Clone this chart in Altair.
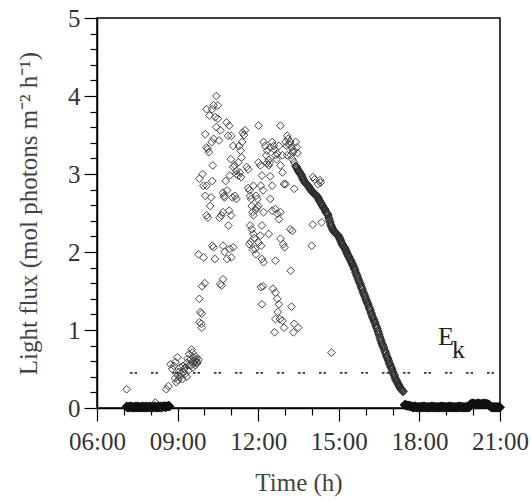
import altair as alt
import pandas as pd

# ---------------- data (hours of day, light flux) ----------------
scatter_t = [
    7.10, 8.17, 8.58, 8.66, 8.74, 8.80, 8.86, 8.90, 8.92, 8.99, 9.05, 9.11, 9.18, 9.20, 9.24,
    9.28, 9.30, 9.34, 9.37, 9.40, 9.43, 9.45, 9.49, 9.52, 9.55, 9.58, 9.60, 9.62, 9.65, 9.68,
    9.70, 9.74, 9.78, 9.00, 9.08, 9.15, 9.22, 9.35, 9.47, 9.57, 9.66, 9.72, 8.95, 9.02,
    9.81, 9.93, 9.78, 9.97, 9.91, 10.01, 9.81, 9.85, 9.90, 9.81, 9.90, 9.88,
    10.03, 10.08, 10.12, 10.16, 10.08, 10.19, 10.29, 10.34, 10.44, 10.50, 10.40, 10.50, 10.44, 10.34,
    10.27, 10.31, 10.08, 10.03, 9.96, 10.08, 10.13, 10.21, 10.29, 10.25, 10.29, 10.34, 10.39, 10.54,
    10.59, 10.59, 10.64, 10.69, 10.63, 10.56, 10.69, 10.75, 10.79, 10.84, 10.69, 10.73, 10.94, 11.07,
    10.98, 10.82, 10.92, 10.88, 11.00, 11.07, 10.69, 10.75, 10.84, 10.94, 11.00, 11.07, 10.92, 11.04,
    10.99, 10.89,
    11.13, 11.19, 11.26, 11.38, 11.42, 11.47, 11.40, 11.51, 11.34, 11.29, 11.19, 11.26, 11.32, 11.36,
    11.19, 11.13,
    11.57, 11.63, 11.67, 11.70, 11.74, 11.76, 11.79, 11.82, 11.63, 11.70, 11.76, 11.82, 11.67, 11.72,
    11.80, 11.89, 11.85, 11.92, 11.95, 11.91, 11.97, 12.01, 11.92, 11.82,
    12.01, 12.01, 12.08, 12.14, 12.10, 12.18, 12.20, 12.14, 12.08, 12.01, 12.11, 12.14, 12.20, 12.10,
    12.18, 12.14, 12.20, 12.26, 12.33, 12.30, 12.39, 12.33, 12.43, 12.45, 12.39, 12.45, 12.52, 12.45,
    12.52, 12.39,
    12.52, 12.58, 12.64, 12.61, 12.71, 12.68, 12.77, 12.83, 12.90, 12.83, 12.90, 12.96, 12.64, 12.71,
    12.77, 12.83, 12.64, 12.55, 12.64, 12.71, 12.77, 12.73, 12.81, 12.64, 12.61, 12.83, 12.93, 12.98,
    12.90, 12.96,
    13.02, 13.06, 13.08, 13.11, 13.15, 13.19, 13.24, 13.21, 13.27, 13.34, 13.31, 13.08, 13.02, 13.19,
    13.27, 13.21, 13.24, 13.31, 13.34, 13.49, 13.40, 13.44, 13.46, 13.34, 13.30,
    14.04, 14.10, 14.30, 14.32, 14.22, 14.03, 14.36, 13.99, 14.73,
]
scatter_v = [
    0.24, 0.07, 0.24, 0.28, 0.56, 0.50, 0.54, 0.38, 0.59, 0.65, 0.46, 0.52, 0.37, 0.54, 0.50,
    0.44, 0.52, 0.40, 0.63, 0.48, 0.69, 0.55, 0.54, 0.75, 0.71, 0.65, 0.57, 0.61, 0.60, 0.66,
    0.63, 0.58, 0.62, 0.42, 0.40, 0.44, 0.47, 0.58, 0.62, 0.52, 0.55, 0.59, 0.33, 0.36,
    2.94, 3.00, 1.97, 1.93, 1.56, 1.60, 1.40, 1.23, 1.21, 1.10, 1.03, 1.08,
    3.51, 3.34, 3.32, 3.28, 3.83, 3.75, 3.83, 3.88, 4.00, 3.88, 3.73, 3.71, 3.60, 3.45,
    3.41, 3.11, 2.85, 2.72, 2.85, 2.47, 2.44, 2.59, 2.91, 2.70, 2.08, 2.06, 1.91, 3.43,
    3.56, 1.59, 1.57, 1.65, 2.47, 2.44, 2.51, 2.70, 2.91, 2.79, 2.76, 2.72, 2.98, 3.09,
    3.19, 3.66, 3.62, 3.49, 3.49, 3.36, 2.08, 2.00, 1.91, 2.04, 1.93, 2.06, 2.53, 2.70,
    2.47, 2.34,
    3.11, 3.04, 3.15, 3.21, 3.53, 3.50, 3.41, 3.56, 3.30, 3.36, 3.00, 2.98, 3.02, 2.96,
    2.68, 2.72,
    3.09, 2.82, 2.79, 2.72, 2.68, 2.59, 2.51, 2.47, 3.06, 2.34, 2.29, 2.23, 2.10, 2.13,
    2.03, 2.04, 2.18, 1.97, 2.57, 2.54, 2.68, 2.59, 2.72, 2.85,
    3.62, 3.15, 3.11, 2.98, 2.85, 2.79, 2.51, 2.34, 2.21, 2.12, 2.08, 1.91, 1.87, 1.55,
    1.56, 1.33, 3.41, 3.36, 3.30, 3.24, 3.18, 3.14, 3.14, 3.34, 3.11, 2.97, 2.85, 2.68,
    2.53, 2.23,
    3.41, 3.36, 3.24, 3.31, 3.26, 3.19, 3.36, 3.62, 3.24, 3.11, 3.02, 2.87, 2.55, 2.49,
    2.42, 2.51, 1.89, 1.53, 1.48, 1.40, 1.33, 1.23, 1.14, 1.14, 0.97, 2.17, 2.10, 2.06,
    1.12, 1.03,
    3.41, 3.36, 3.49, 3.45, 3.38, 3.41, 3.34, 3.24, 3.19, 3.15, 3.30, 3.24, 2.87, 2.29,
    2.27, 1.76, 1.30, 0.97, 1.08, 1.03, 3.41, 3.34, 3.27, 2.81, 3.28,
    2.96, 2.93, 2.92, 2.89, 2.87, 2.35, 2.38, 2.08, 0.71,
]

# regularly logged segments (start hour, 3-minute step); "2" = readings 1.5 min later
step_h = 0.05
morning_start = 7.10
morning_v = [
    0.02, 0.01, 0.01, 0.02, 0.01, 0.01, 0.01, 0.02, 0.01, 0.01, 0.01,
    0.01, 0.02, 0.01, 0.01, 0.01, 0.01, 0.02, 0.01, 0.01, 0.01, 0.02,
    0.01, 0.01, 0.01, 0.02, 0.01, 0.02, 0.02, 0.01, 0.02, 0.02, 0.02,
]
morning2_start = 7.125
morning2_v = [
    0.01, 0.01, 0.02, 0.01, 0.01, 0.01, 0.01, 0.01, 0.02, 0.01, 0.01,
    0.01, 0.01, 0.01, 0.02, 0.01, 0.01, 0.01, 0.01, 0.01, 0.02, 0.01,
    0.01, 0.02, 0.01, 0.01, 0.01, 0.02, 0.02, 0.02, 0.02, 0.03,
]
curve_start = 13.40
curve_v = [
    3.10, 3.07, 3.04, 3.01, 2.99, 2.95, 2.92, 2.89, 2.87, 2.85, 2.83, 2.80, 2.78, 2.76, 2.74,
    2.73, 2.71, 2.68, 2.65, 2.62, 2.59, 2.56, 2.53, 2.50, 2.47, 2.41, 2.35, 2.31, 2.28, 2.25,
    2.24, 2.22, 2.20, 2.16, 2.12, 2.09, 2.06, 2.03, 1.99, 1.95, 1.92, 1.89, 1.85, 1.81, 1.77,
    1.72, 1.68, 1.63, 1.59, 1.54, 1.49, 1.45, 1.40, 1.36, 1.32, 1.27, 1.22, 1.17, 1.13, 1.09,
    1.04, 0.99, 0.94, 0.88, 0.83, 0.79, 0.74, 0.70, 0.65, 0.61, 0.56, 0.52, 0.47, 0.43, 0.38,
    0.35, 0.31, 0.28, 0.25, 0.23, 0.21,
]
curve2_start = 13.425
curve2_v = [
    3.09, 3.05, 3.03, 3.00, 2.97, 2.93, 2.90, 2.88, 2.86, 2.84, 2.81, 2.79, 2.77, 2.75, 2.74,
    2.72, 2.70, 2.66, 2.63, 2.60, 2.57, 2.55, 2.51, 2.49, 2.44, 2.38, 2.33, 2.29, 2.26, 2.25,
    2.23, 2.21, 2.18, 2.14, 2.10, 2.07, 2.05, 2.01, 1.97, 1.94, 1.90, 1.87, 1.83, 1.79, 1.74,
    1.70, 1.65, 1.61, 1.56, 1.52, 1.47, 1.43, 1.38, 1.34, 1.29, 1.25, 1.20, 1.15, 1.11, 1.06,
    1.02, 0.97, 0.91, 0.86, 0.81, 0.77, 0.72, 0.67, 0.63, 0.58, 0.54, 0.50, 0.45, 0.41, 0.36,
    0.33, 0.30, 0.27, 0.24, 0.22,
]
evening_start = 17.45
evening_v = [
    0.04, 0.04, 0.03, 0.03, 0.02, 0.02,
    0.01, 0.01, 0.02, 0.01, 0.01, 0.01, 0.01, 0.02, 0.01, 0.01, 0.01,
    0.01, 0.01, 0.01, 0.02, 0.01, 0.01, 0.01, 0.01, 0.01, 0.01, 0.02,
    0.01, 0.01, 0.01, 0.01, 0.01, 0.02, 0.01, 0.01, 0.01, 0.01, 0.01,
    0.01, 0.02, 0.01, 0.01, 0.01, 0.01, 0.01, 0.01, 0.02, 0.01,
    0.05, 0.05, 0.06, 0.05, 0.05, 0.05, 0.06, 0.05, 0.05, 0.05, 0.05, 0.06, 0.05, 0.05, 0.04,
    0.02, 0.01, 0.01, 0.01, 0.01, 0.01, 0.01, 0.01,
]
evening2_start = 17.475
evening2_v = [
    0.04, 0.03, 0.03, 0.03, 0.02, 0.02,
    0.01, 0.02, 0.01, 0.01, 0.01, 0.01, 0.01, 0.01, 0.02, 0.01, 0.01,
    0.01, 0.01, 0.01, 0.01, 0.02, 0.01, 0.01, 0.01, 0.01, 0.01, 0.01,
    0.02, 0.01, 0.01, 0.01, 0.01, 0.01, 0.02, 0.01, 0.01, 0.01, 0.01,
    0.01, 0.01, 0.02, 0.01, 0.01, 0.01, 0.01, 0.01, 0.01, 0.02,
    0.05, 0.06, 0.05, 0.05, 0.05, 0.06, 0.05, 0.05, 0.05, 0.06, 0.05, 0.05, 0.05, 0.04,
    0.02, 0.01, 0.01, 0.01, 0.01, 0.01, 0.01, 0.01,
]

ek_value = 0.45
ek_start = 7.23
ek_end = 21.0

x_tick_values = [6, 7, 8, 9, 10, 11, 12, 13, 14, 15, 16, 17, 18, 19, 20, 21]
y_tick_values = [0, 0.2, 0.4, 0.6, 0.8, 1, 1.2, 1.4, 1.6, 1.8, 2, 2.2, 2.4, 2.6, 2.8, 3,
                 3.2, 3.4, 3.6, 3.8, 4, 4.2, 4.4, 4.6, 4.8, 5]

# ---------------- build tables ----------------
def logged_rows(segments):
    rows = []
    for start, vals in segments:
        rows += [(round(start + i * step_h, 3), v) for i, v in enumerate(vals)]
    return pd.DataFrame(rows, columns=["t", "v"])

df_scatter = pd.DataFrame({"t": scatter_t, "v": scatter_v})
df_night = logged_rows([(morning_start, morning_v), (morning2_start, morning2_v),
                        (evening_start, evening_v), (evening2_start, evening2_v)])
df_curve = logged_rows([(curve_start, curve_v), (curve2_start, curve2_v)])

FONT = "Liberation Serif"

x_scale = alt.Scale(domain=[6, 21], nice=False, zero=False)
y_scale = alt.Scale(domain=[0, 5], nice=False)

x_enc = alt.X("t:Q", scale=x_scale, axis=alt.Axis(
    values=x_tick_values, tickCount=200,
    labelExpr="datum.value % 3 === 0 ? (datum.value < 10 ? '0' : '') + datum.value + ':00' : ''",
    tickSize={"condition": {"test": "datum.value % 3 === 0", "value": 13}, "value": 7},
    labelOverlap=False, labelFlush=False, labelPadding=8, titlePadding=16,
    title="Time (h)"))
y_enc = alt.Y("v:Q", scale=y_scale, axis=alt.Axis(
    values=y_tick_values, tickCount=200,
    labelExpr="datum.value % 1 === 0 ? '' + datum.value : ''",
    tickSize={"condition": {"test": "datum.value % 1 === 0", "value": 13}, "value": 7},
    labelOverlap=False, labelFlush=False, labelPadding=4, titlePadding=26,
    title="Light flux (mol photons m⁻² h⁻¹)"))

points = alt.Chart(df_scatter).mark_point(
    shape="diamond", filled=False, size=60, stroke="#444444", strokeWidth=1.0, opacity=1
).encode(x=x_enc, y=y_enc)

curve = alt.Chart(df_curve).mark_point(
    shape="diamond", filled=False, size=60, stroke="#2e2e2e", strokeWidth=1.1, opacity=1
).encode(x="t:Q", y="v:Q")

night = alt.Chart(df_night).mark_point(
    shape="diamond", filled=False, size=60, stroke="#111111", strokeWidth=1.5, opacity=1
).encode(x="t:Q", y="v:Q")

ek_df = pd.DataFrame({"t": [ek_start], "t2": [ek_end], "v": [ek_value]})
ek_line = alt.Chart(ek_df).mark_rule(
    color="#333333", strokeWidth=1.6, strokeDash=[2.5, 2, 2.5, 14]
).encode(x="t:Q", x2="t2:Q", y="v:Q")

lab_e = pd.DataFrame({"t": [18.69], "v": [0.81], "label": ["E"]})
lab_k = pd.DataFrame({"t": [19.21], "v": [0.64], "label": ["k"]})
text_e = alt.Chart(lab_e).mark_text(
    font=FONT, fontSize=26, color="#222222", align="left", baseline="alphabetic"
).encode(x="t:Q", y="v:Q", text="label:N")
text_k = alt.Chart(lab_k).mark_text(
    font=FONT, fontSize=26, color="#222222", align="left", baseline="alphabetic"
).encode(x="t:Q", y="v:Q", text="label:N")

chart = alt.layer(points, curve, night, ek_line, text_e, text_k).properties(
    width=403, height=390,
    padding={"left": 97, "top": 18, "right": 31, "bottom": 93},
    autosize=alt.AutoSizeParams(type="none"),
).configure_view(
    stroke="black", strokeWidth=1.5
).configure_axis(
    grid=False, domainColor="black", domainWidth=1.5, tickColor="black", tickWidth=1.2,
    labelFont=FONT, labelFontSize=25, labelColor="#333333",
    titleFont=FONT, titleFontSize=25, titleFontWeight="normal", titleColor="#444444",
)

chart.save("out.html", embed_options={"renderer": "svg", "actions": False})
